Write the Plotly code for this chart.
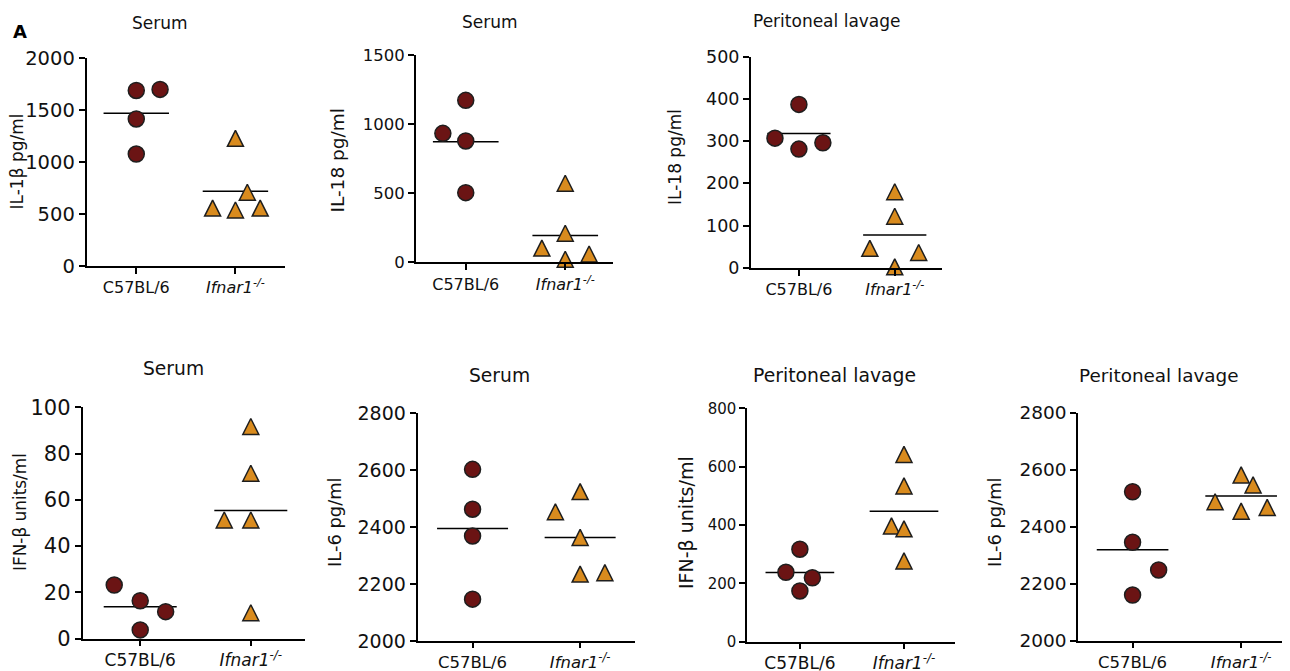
import numpy as np
import plotly.graph_objects as go

W, H = 1290, 671
OFF = 8  # page body margin of the html file

# ---------------- data ----------------
categories = ["C57BL/6", "<i>Ifnar1</i><sup><i>-/-</i></sup>"]

panel_titles = ["Serum", "Serum", "Peritoneal lavage",
                "Serum", "Serum", "Peritoneal lavage", "Peritoneal lavage"]
y_titles = ["IL-1β pg/ml", "IL-18 pg/ml", "IL-18 pg/ml",
            "IFN-β units/ml", "IL-6 pg/ml", "IFN-β units/ml", "IL-6 pg/ml"]

wt_values = [
    [1690, 1700, 1415, 1077],
    [933, 1172, 878, 504],
    [307, 387, 281, 296],
    [23.2, 16.4, 11.7, 3.8],
    [2603, 2463, 2369, 2147],
    [317, 238, 219, 174],
    [2523, 2346, 2249, 2161],
]
ko_values = [
    [1228, 708, 556, 537, 556],
    [572, 210, 103, 22, 60],
    [180, 122, 46, 2, 36],
    [91.7, 71.5, 51.3, 51.3, 11.2],
    [2454, 2525, 2364, 2235, 2240],
    [642, 534, 397, 387, 277],
    [2582, 2547, 2488, 2455, 2468],
]
# horizontal jitter (category units) of each dot
wt_jitter = [
    [0, 0.24, 0, 0],
    [-0.23, 0, 0, 0],
    [-0.25, 0, 0, 0.25],
    [-0.235, 0, 0.23, 0],
    [0, 0, 0, 0],
    [0, -0.134, 0.12, 0],
    [0, 0, 0.24, 0],
]
ko_jitter = [
    [0, 0.12, -0.23, 0, 0.25],
    [0, 0, -0.235, 0, 0.24],
    [0, 0, -0.26, 0, 0.25],
    [0, 0, -0.24, 0, 0],
    [-0.23, 0, 0, 0, 0.23],
    [0, 0, -0.12, 0, 0],
    [0, 0.11, -0.24, 0, 0.24],
]
y_ranges = [[0, 2000], [0, 1500], [0, 500], [0, 100], [2000, 2800], [0, 800], [2000, 2800]]
y_dticks = [500, 500, 100, 20, 200, 200, 200]

# ---------------- layout (pixels, screen coordinates) ----------------
# x0, x1, ytop, ybottom of each plot area
boxes = [
    (86.7, 285, 58.3, 265.7),
    (416, 613, 55, 262.3),
    (751, 941.7, 56.7, 267.7),
    (82.7, 305, 407.3, 638.7),
    (417.7, 635, 413.3, 641),
    (747.3, 955, 408.3, 641.7),
    (1078.3, 1290, 412.7, 641),
]
x_ranges = [[-0.5, 1.5], [-0.5, 1.48], [-0.5, 1.49], [-0.52, 1.49],
            [-0.51, 1.51], [-0.505, 1.49], [-0.5, 1.45]]
tick_sizes = [19.5, 16.5, 17.5, 21, 19, 15, 18.5]
cat_sizes = [16, 16, 16, 17, 16.5, 17, 16.5]
cat_ticklen = [6, 6, 6, 5, 5, 5, 5]
title_sizes = [17, 17, 17, 18.7, 18.7, 18.8, 18.4]
ytitle_sizes = [17, 18.5, 17, 16.9, 17.9, 19, 17.9]
title_pos = [(160, 23), (490, 22), (827, 21), (173, 368), (499, 375), (834, 375), (1159, 375)]
ytitle_pos = [(16.5, 162), (337.5, 161), (675, 157), (20, 512), (334, 522), (686, 523), (994, 522)]

FONT = "DejaVu Sans"
WT_COLOR = "#6B1414"
KO_COLOR = "#D98B1E"
EDGE = "#1e1e1e"
MSIZE = 16
HALF = 0.33


def px(x):
    return (x - OFF) / W


def py(y):
    return 1 - (y - OFF) / H


fig = go.Figure()
layout = {}
annotations = []

for i in range(7):
    k = "" if i == 0 else str(i + 1)
    xa, ya = "x" + k, "y" + k
    x0, x1, yt, yb = boxes[i]
    layout["xaxis" + k] = dict(
        domain=[px(x0), min(px(x1), 1)], range=x_ranges[i], anchor=ya,
        tickmode="array", tickvals=[0, 1], ticktext=categories,
        showline=True, linecolor="black", linewidth=2,
        ticks="outside", ticklen=cat_ticklen[i], tickwidth=2, tickcolor="black",
        showgrid=False, zeroline=False, fixedrange=True, automargin=False,
        tickfont=dict(family=FONT, size=cat_sizes[i], color="#111"),
    )
    layout["yaxis" + k] = dict(
        domain=[py(yb), py(yt)], range=y_ranges[i], anchor=xa,
        dtick=y_dticks[i], tick0=y_ranges[i][0],
        showline=True, linecolor="black", linewidth=2,
        ticks="outside", ticklen=6, tickwidth=2, tickcolor="black",
        showgrid=False, zeroline=False, fixedrange=True, automargin=False,
        tickfont=dict(family=FONT, size=tick_sizes[i], color="#111"),
    )
    # mean lines
    for c, vals in enumerate([wt_values[i], ko_values[i]]):
        m = float(np.mean(vals))
        fig.add_trace(go.Scatter(
            x=[c - HALF, c + HALF], y=[m, m], mode="lines",
            line=dict(color="black", width=1.5), xaxis=xa, yaxis=ya,
            hoverinfo="skip", showlegend=False, cliponaxis=False))
    # WT circles
    fig.add_trace(go.Scatter(
        x=[0 + j for j in wt_jitter[i]], y=wt_values[i], mode="markers",
        marker=dict(symbol="circle", size=MSIZE, color=WT_COLOR,
                    line=dict(color=EDGE, width=1.5)),
        xaxis=xa, yaxis=ya, showlegend=False, cliponaxis=False))
    # KO triangles (upward, centred on the value)
    fig.add_trace(go.Scatter(
        x=[1 + j for j in ko_jitter[i]], y=ko_values[i], mode="markers",
        marker=dict(symbol="arrow-down", angle=180, standoff=MSIZE / 2,
                    size=MSIZE, color=KO_COLOR,
                    line=dict(color=EDGE, width=1.5)),
        xaxis=xa, yaxis=ya, showlegend=False, cliponaxis=False))

    tx, ty = title_pos[i]
    annotations.append(dict(
        text=panel_titles[i], x=px(tx), y=py(ty), xref="paper", yref="paper",
        xanchor="center", yanchor="middle", showarrow=False,
        font=dict(family=FONT, size=title_sizes[i], color="#111")))
    ax_, ay_ = ytitle_pos[i]
    annotations.append(dict(
        text=y_titles[i], x=px(ax_), y=py(ay_), xref="paper", yref="paper",
        xanchor="center", yanchor="middle", showarrow=False, textangle=-90,
        font=dict(family=FONT, size=ytitle_sizes[i], color="#111")))

annotations.append(dict(
    text="<b>A</b>", x=px(20), y=py(31), xref="paper", yref="paper",
    xanchor="center", yanchor="middle", showarrow=False,
    font=dict(family=FONT, size=18, color="black")))

fig.update_layout(
    width=W, height=H, margin=dict(l=0, r=0, t=0, b=0, autoexpand=False),
    paper_bgcolor="white", plot_bgcolor="white",
    annotations=annotations, showlegend=False, **layout)

fig.write_html("out.html")
